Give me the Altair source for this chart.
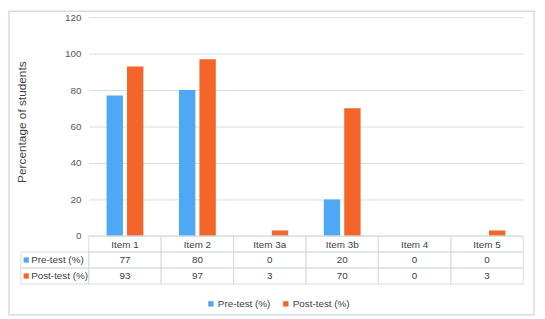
import altair as alt
import pandas as pd

items = ["Item 1", "Item 2", "Item 3a", "Item 3b", "Item 4", "Item 5"]
pre = [77, 80, 0, 20, 0, 0]
post = [93, 97, 3, 70, 0, 3]
series = ["Pre-test (%)", "Post-test (%)"]
colors = ["#4ea8f5", "#f4652a"]

rows = []
for i, it in enumerate(items):
    rows.append({"item": it, "series": series[0], "value": pre[i]})
    rows.append({"item": it, "series": series[1], "value": post[i]})
df = pd.DataFrame(rows)
items_df = pd.DataFrame({"item": items})
series_df = pd.DataFrame({"series": series})

FONT = "Liberation Sans"
TXT = "#404040"
LINE = "#d6dddd"
W, H = 441, 222
ROW = 16.3

xscale = alt.Scale(paddingInner=0, paddingOuter=0)
xenc = alt.X("item:N", sort=items, scale=xscale, axis=None)
cscale = alt.Scale(domain=series, range=colors)

bars = alt.Chart(df).mark_bar().encode(
    x=xenc,
    xOffset=alt.XOffset("series:N", sort=series, scale=alt.Scale(paddingInner=0.2, paddingOuter=0.87)),
    y=alt.Y("value:Q", scale=alt.Scale(domain=[0, 120]),
            axis=alt.Axis(values=[0, 20, 40, 60, 80, 100, 120], title="Percentage of students",
                          grid=True, gridColor=LINE, domain=False, ticks=False, labelOverlap=False,
                          labelFont=FONT, labelFontSize=10, labelColor="#595959", labelPadding=8,
                          titleFont=FONT, titleFontSize=12, titleFontWeight="normal", titleColor=TXT,
                          titleAngle=-90, titleX=-68, titleY=106, titleBaseline="middle", titleAlign="center")),
    color=alt.Color("series:N", sort=series, scale=cscale,
                    legend=alt.Legend(title=None, orient="none", legendX=119, legendY=286,
                                      direction="horizontal", symbolType="square", symbolSize=30,
                                      symbolStrokeWidth=0, labelFont=FONT, labelFontSize=10,
                                      labelColor=TXT, columnPadding=10, labelOffset=2)),
)

# table cells: one row of item-cells per table row, label cells to the left
cells = []
for r in range(3):
    cells.append(alt.Chart(items_df).mark_rect(fillOpacity=0, stroke=LINE, strokeWidth=1).encode(
        x=xenc, y=alt.value(H + ROW * r), y2=alt.value(H + ROW * (r + 1))))
for r in (1, 2):
    cells.append(alt.Chart(series_df.head(1)).mark_rect(fillOpacity=0, stroke=LINE, strokeWidth=1).encode(
        x=alt.value(-69), x2=alt.value(0), y=alt.value(H + ROW * r), y2=alt.value(H + ROW * (r + 1))))

# outer frame of the figure
frame = alt.Chart(series_df.head(1)).mark_rect(fillOpacity=0, stroke="#d3dfdf", strokeWidth=1.5).encode(
    x=alt.value(-81), x2=alt.value(452), y=alt.value(-6), y2=alt.value(302))

header = alt.Chart(items_df).mark_text(font=FONT, fontSize=10, color=TXT, baseline="middle").encode(
    x=xenc, y=alt.value(H + ROW / 2 + 1), text="item:N")

vals = []
for k, s in enumerate(series):
    vals.append(alt.Chart(df).transform_filter(alt.datum.series == s).mark_text(
        font=FONT, fontSize=10, color=TXT, baseline="middle").encode(
        x=xenc, y=alt.value(H + ROW * (k + 1.5) + 0.5), text="value:Q"))
    vals.append(alt.Chart(series_df).transform_filter(alt.datum.series == s).mark_text(
        font=FONT, fontSize=10, color=TXT, baseline="middle", align="left").encode(
        x=alt.value(-58.5), y=alt.value(H + ROW * (k + 1.5) + 0.5), text="series:N"))
    vals.append(alt.Chart(series_df).transform_filter(alt.datum.series == s).mark_square(
        size=28, opacity=1).encode(
        x=alt.value(-63.5), y=alt.value(H + ROW * (k + 1.5)),
        color=alt.Color("series:N", sort=series, scale=cscale, legend=None)))

chart = alt.layer(
    frame, bars, *cells, header, *vals
).properties(
    width=W, height=H,
    background="white",
    padding={"left": 82, "top": 7, "right": 14, "bottom": 82},
    autosize=alt.AutoSizeParams(type="none"),
).configure_view(stroke=None)

chart.save("out.html", embed_options={"renderer": "svg", "actions": False})
